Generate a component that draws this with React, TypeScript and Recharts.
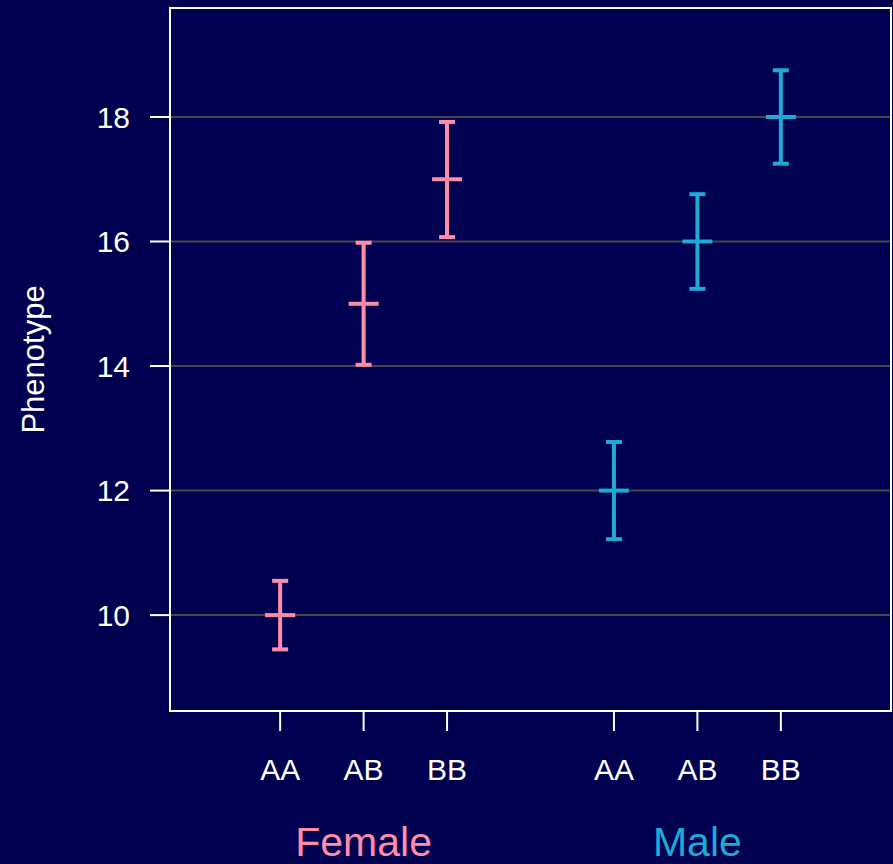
import React from "react";
import {
  ComposedChart,
  Scatter,
  ErrorBar,
  XAxis,
  YAxis,
  CartesianGrid,
  ReferenceArea,
  ReferenceLine,
} from "recharts";

const genotypes = ["AA", "AB", "BB"];
const sexes = ["Female", "Male"];
const sexColors = ["#ff8cab", "#1caad6"];

// positions of the genotype columns on the x axis
const femaleX = [1, 2, 3];
const maleX = [5, 6, 7];
const groupLabelX = [2, 6];

const femaleMean = [10, 15, 17];
const femaleLow = [9.45, 14.02, 16.07];
const femaleHigh = [10.55, 15.98, 17.92];

const maleMean = [12, 16, 18];
const maleLow = [11.22, 15.24, 17.25];
const maleHigh = [12.78, 16.76, 18.75];

const yTicks = [10, 12, 14, 16, 18];
const xDomain: [number, number] = [-0.32, 8.32];
const yDomain: [number, number] = [8.46, 19.75];

const BG = "#000050";
const FONT = "'Liberation Sans', Arial, Helvetica, sans-serif";
const LW = 4;

const toRows = (xs: number[], mean: number[], lo: number[], hi: number[]) =>
  xs.map((x, i) => ({ x, y: mean[i], err: [mean[i] - lo[i], hi[i] - mean[i]] }));

const femaleRows = toRows(femaleX, femaleMean, femaleLow, femaleHigh);
const maleRows = toRows(maleX, maleMean, maleLow, maleHigh);

const xTicks = [...femaleX, ...maleX];
const xLabel = (v: number) => genotypes[xTicks.indexOf(v) % genotypes.length];

const meanTick = (color: string) => (props: any) => {
  const { cx, cy } = props;
  return <line x1={cx - 15} x2={cx + 15} y1={cy} y2={cy} stroke={color} strokeWidth={LW} />;
};

function YTitle(props: any) {
  const vb = props.viewBox || { x: 0, y: 8, width: 170, height: 703 };
  const x = vb.x + 43.5;
  const y = vb.y + vb.height / 2;
  return (
    <text
      x={x}
      y={y}
      textAnchor="middle"
      fill="#fff"
      fontSize={31}
      fontFamily={FONT}
      transform={`rotate(-90, ${x}, ${y})`}
    >
      Phenotype
    </text>
  );
}

export default function App() {
  return (
    <div
      style={{
        position: "absolute",
        left: 0,
        top: 0,
        width: 893,
        height: 864,
        background: BG,
        fontFamily: FONT,
      }}
    >
      <ComposedChart width={893} height={864} margin={{ top: 8, right: 2, left: 0, bottom: 73 }}>
        <CartesianGrid vertical={false} stroke="#474747" strokeWidth={2} />
        <XAxis
          type="number"
          dataKey="x"
          domain={xDomain}
          allowDataOverflow
          ticks={xTicks}
          interval={0}
          tickFormatter={xLabel}
          tick={{ fill: "#fff", fontSize: 30 }}
          tickLine={{ stroke: "#fff", strokeWidth: 2 }}
          axisLine={{ stroke: "#fff", strokeWidth: 2 }}
          tickSize={20}
          tickMargin={28}
          height={80}
        />
        <YAxis
          type="number"
          domain={yDomain}
          allowDataOverflow
          ticks={yTicks}
          interval={0}
          tick={{ fill: "#fff", fontSize: 30 }}
          tickLine={{ stroke: "#fff", strokeWidth: 2 }}
          axisLine={{ stroke: "#fff", strokeWidth: 2 }}
          tickSize={20}
          tickMargin={20}
          width={170}
          label={{ content: (p: any) => <YTitle {...p} /> }}
        />
        <ReferenceArea
          x1={xDomain[0]}
          x2={xDomain[1]}
          y1={yDomain[0]}
          y2={yDomain[1]}
          fill="none"
          stroke="#fff"
          strokeWidth={2}
        />
        {groupLabelX.map((gx, i) => (
          <ReferenceLine
            key={sexes[i]}
            x={gx}
            stroke="none"
            label={{
              value: sexes[i],
              position: "bottom",
              offset: 116,
              fill: sexColors[i],
              fontSize: 41,
            }}
          />
        ))}
        <Scatter data={femaleRows} dataKey="y" shape={meanTick(sexColors[0])} isAnimationActive={false}>
          <ErrorBar
            dataKey="err"
            direction="y"
            width={8}
            stroke={sexColors[0]}
            strokeWidth={LW}
            isAnimationActive={false}
          />
        </Scatter>
        <Scatter data={maleRows} dataKey="y" shape={meanTick(sexColors[1])} isAnimationActive={false}>
          <ErrorBar
            dataKey="err"
            direction="y"
            width={8}
            stroke={sexColors[1]}
            strokeWidth={LW}
            isAnimationActive={false}
          />
        </Scatter>
      </ComposedChart>
    </div>
  );
}
